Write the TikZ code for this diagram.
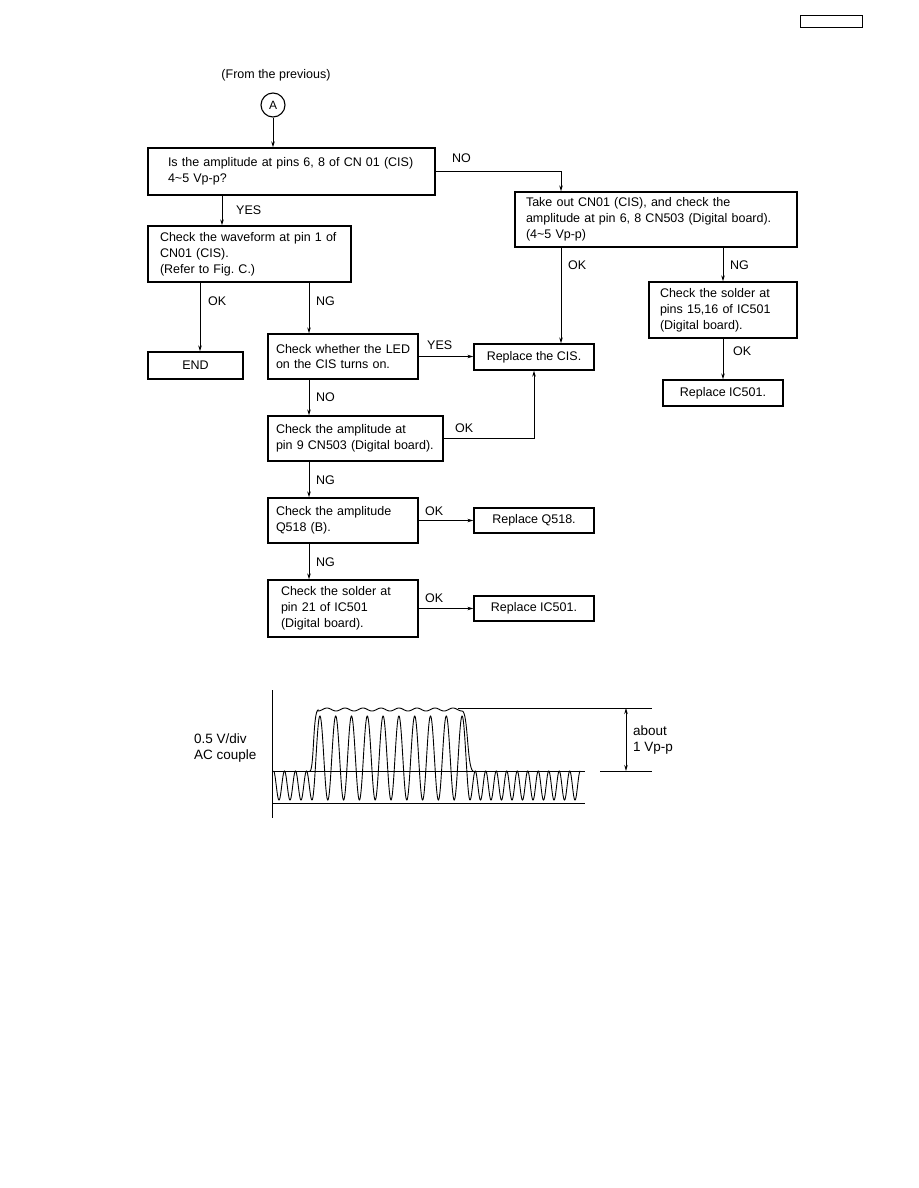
\documentclass[tikz,border=0pt]{standalone}
\usepackage{fontspec}
\setmainfont{Liberation Sans}
\usepackage{tikz}
\usetikzlibrary{arrows.meta, positioning, calc}

\begin{document}
\begin{tikzpicture}[
  x=1pt, y=-1pt,
  box/.style={rectangle, draw, line width=1.3pt, align=left, inner ysep=0pt, font=\fontsize{12.5}{15.8}\selectfont},
  repl/.style={rectangle, draw, line width=1.3pt, align=center, inner sep=0pt, font=\fontsize{12.5}{15.8}\selectfont},
  lbl/.style={anchor=west, inner sep=0pt, font=\fontsize{12.5}{14}\selectfont},
  line/.style={draw, line width=0.9pt, -{Stealth[length=6pt,width=3.5pt]}},
  wave/.style={line width=0.9pt}
]
  \useasboundingbox (0,0) rectangle (918,1188);

  \node[draw, line width=1pt, minimum width=62pt, minimum height=12pt, inner sep=0pt] (pagebox) at (831,22) {};

  \node[font=\fontsize{12.5}{14}\selectfont] (from) at (276,75) {(From the previous)};
  \node[circle, draw, line width=1.1pt, minimum size=24pt, inner sep=0pt, font=\fontsize{12}{14}\selectfont] (A) at (273,105) {A};

  \node[box, inner xsep=20pt, text width=247pt, minimum height=47pt] (q1) at (291.5,171.5)
    {Is the amplitude at pins 6, 8 of CN 01 (CIS)\\4\textasciitilde5 Vp-p?};
  \node[box, inner xsep=11pt, text width=260pt, minimum height=55pt] (q2) at (656,219.5)
    {Take out CN01 (CIS), and check the\\amplitude at pin 6, 8 CN503 (Digital board).\\(4\textasciitilde5 Vp-p)};
  \node[box, inner xsep=12pt, text width=179pt, minimum height=56pt] (wave) at (249.5,254)
    {Check the waveform at pin 1 of\\CN01 (CIS).\\(Refer to Fig.\ C.)};
  \node[repl, minimum width=95pt, minimum height=27pt] (end) at (195.5,365.5) {END};
  \node[box, inner xsep=8pt, text width=134pt, minimum height=45pt] (led) at (343,356.5)
    {\mbox{Check whether the LED}\\on the CIS turns on.};
  \node[repl, minimum width=120pt, minimum height=26pt] (cis) at (534,357) {Replace the CIS.};
  \node[box, inner xsep=11pt, text width=126pt, minimum height=56pt] (sol15) at (723,310)
    {Check the solder at\\pins 15,16 of IC501\\(Digital board).};
  \node[repl, minimum width=120pt, minimum height=26pt] (ic1) at (723,393) {Replace IC501.};
  \node[box, inner xsep=8pt, text width=159pt, minimum height=45pt] (amp9) at (355.5,438.5)
    {Check the amplitude at\\pin 9 CN503 (Digital board).};
  \node[box, inner xsep=8pt, text width=134pt, minimum height=45pt] (q518) at (343,520.5)
    {Check the amplitude\\Q518 (B).};
  \node[repl, minimum width=120pt, minimum height=25pt] (repq) at (534,520.5) {Replace Q518.};
  \node[box, inner xsep=13pt, text width=124pt, minimum height=57pt] (sol21) at (343,608.5)
    {Check the solder at\\pin 21 of IC501\\(Digital board).};
  \node[repl, minimum width=120pt, minimum height=25pt] (ic2) at (534,608.5) {Replace IC501.};

  \coordinate (colL) at (309,0);

  % flow
  \path[line] (A) -- (A |- q1.north);
  \path[line] (q1.east) -| ([xshift=-95pt]q2.north);
  \path[line] ([xshift=-69.5pt]q1.south) -- ([xshift=-27.5pt]wave.north);
  \path[line] ([xshift=-49.5pt]wave.south) -- ([xshift=4.5pt]end.north);
  \path[line] (wave.south -| colL) -- (led.north -| colL);
  \path[line] (led.east) -- (led.east -| cis.west);
  \path[line] ([xshift=-95pt]q2.south) -- ([xshift=27pt]cis.north);
  \path[line] (sol15.north |- q2.south) -- (sol15.north);
  \path[line] (sol15) -- (ic1);
  \path[line] (led.south -| colL) -- (amp9.north -| colL);
  \path[line] (amp9.east) -| (cis.south);
  \path[line] (amp9.south -| colL) -- (q518.north -| colL);
  \path[line] (q518.east) -- (repq.west);
  \path[line] (q518.south -| colL) -- (sol21.north -| colL);
  \path[line] (sol21.east) -- (ic2.west);

  % branch labels
  \node[lbl] (noQ1)   at (452,158) {NO};
  \node[lbl] (yesQ1)  at (236,210) {YES};
  \node[lbl] (okWave) at (208,301) {OK};
  \node[lbl] (ngWave) at (316,301) {NG};
  \node[lbl] (yesLed) at (427,345) {YES};
  \node[lbl] (okQ2)   at (568,265) {OK};
  \node[lbl] (ngQ2)   at (730,265) {NG};
  \node[lbl] (okSol)  at (733,351) {OK};
  \node[lbl] (noLed)  at (316,397) {NO};
  \node[lbl] (okAmp)  at (455,428) {OK};
  \node[lbl] (ngAmp)  at (316,480) {NG};
  \node[lbl] (okQ518) at (425,511) {OK};
  \node[lbl] (ngQ518) at (316,562) {NG};
  \node[lbl] (okSol2) at (425,598) {OK};

  % Fig. C waveform
  \draw[wave] (272,690) -- (272,818);
  \draw[wave] (272,771) -- (585,771);
  \draw[wave] (272,803) -- (585,803);
  \draw[wave, samples=120, domain=273.5:312] plot (\x,{785.5+14.5*cos((\x-312)/11*360)});
  \draw[wave, samples=500, domain=312:470] plot (\x,{758+42*cos((\x-312)/15.8*360)});
  \draw[wave, samples=400, domain=470:580.25] plot (\x,{785.5+14.5*cos((\x-470)/10.5*360)});
  \draw[wave] (310,771) .. controls (314,770) and (313,712) .. (318,710)
    -- plot[samples=150, domain=318:462] (\x,{709.5+1.5*cos((\x-318)/18*360)})
    .. controls (468,710) and (467,768) .. (473,771);
  \draw[wave] (458,708) -- (652,708);
  \draw[wave] (600,771) -- (652,771);
  \coordinate (vtop) at (626,708);
  \coordinate (vbot) at (626,771);
  \draw[line, {Stealth[length=6pt,width=3.5pt]}-{Stealth[length=6pt,width=3.5pt]}] (vtop) -- (vbot);
  \node[anchor=west, align=left, inner sep=0pt, font=\fontsize{13.5}{16}\selectfont] (scale) at (194,748) {0.5 V/div\\AC couple};
  \node[anchor=west, align=left, inner sep=0pt, font=\fontsize{13.5}{16}\selectfont] (about) at (633,740) {about\\1 Vp-p};
\end{tikzpicture}
\end{document}
